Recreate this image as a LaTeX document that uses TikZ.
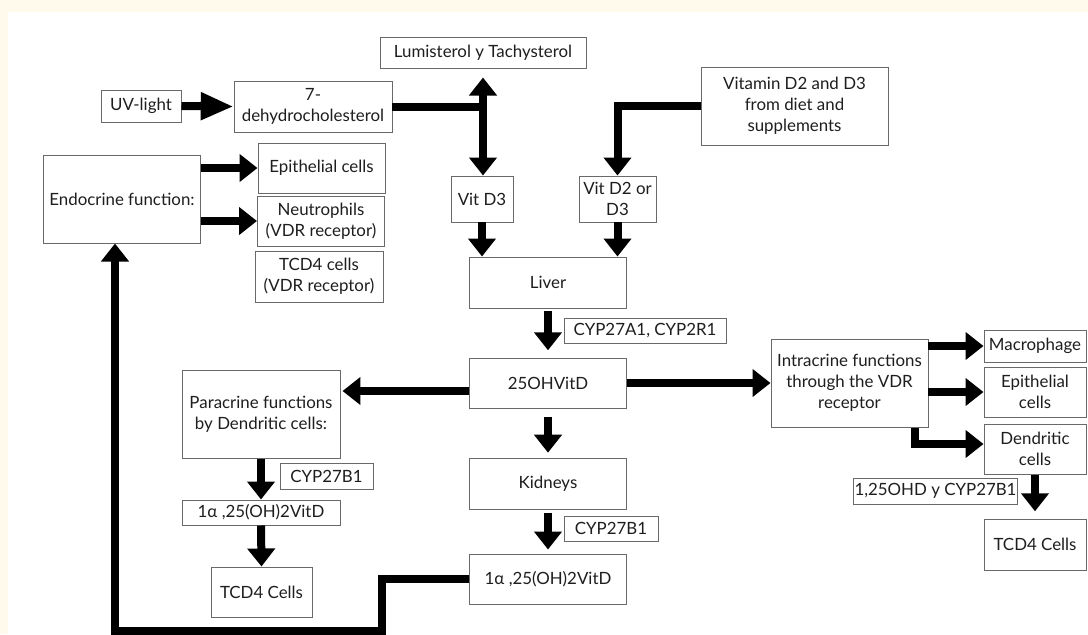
\documentclass[tikz,border=0pt]{standalone}
\usepackage{fontspec}
\setmainfont{Lato}
\usetikzlibrary{arrows.meta,calc}
\definecolor{cream}{RGB}{255,250,235}
\definecolor{boxline}{RGB}{105,105,105}
\definecolor{ink}{RGB}{30,30,30}

\begin{document}
\begin{tikzpicture}[x=0.025cm,y=-0.025cm,
  box/.style={draw=boxline, line width=0.7pt, fill=white, text=ink, align=center, inner sep=1pt, font=\fontsize{12}{15}\selectfont},
  wh/.style 2 args={minimum width=#1*0.025cm, minimum height=#2*0.025cm},
  fat/.style={line width=0.2cm, -{Triangle[width=0.675cm,length=0.45cm]}},
  fatline/.style={line width=0.2cm},
  dbl/.style={line width=0.2cm, {Triangle[width=0.675cm,length=0.45cm]}-{Triangle[width=0.675cm,length=0.45cm]}}]
\fill[cream] (0,0) rectangle (1088,634);
\fill[white] (8,12) rectangle (1088,634);
\useasboundingbox (0,0) rectangle (1088,634);

% top row
\node[box, wh={206}{31}] (lumi) at (483,52.5) {Lumisterol y Tachysterol};
\node[box, wh={80}{32}] (uv) at (141,106) {UV-light};
\node[box, wh={158}{51}] (dehydro) at (313,106.5) {7-\\dehydrocholesterol};
\node[box, wh={187}{78}] (diet) at (794.5,106) {Vitamin D2 and D3\\from diet and\\supplements};

% endocrine
\node[box, wh={157}{88}] (endo) at (122,199) {Endocrine function:};
\node[box, wh={127}{50}] (epi1) at (321.5,168) {Epithelial cells};
\node[box, wh={127}{50}] (neut) at (321,221) {Neutrophils\\(VDR receptor)};
\node[box, wh={128}{51}] (tcdv) at (319,276.5) {TCD4 cells\\(VDR receptor)};

% middle column
\node[box, wh={62}{46}] (vitd3) at (482,199) {Vit D3};
\node[box, wh={77}{46}] (vitd2) at (617.5,199) {Vit D2 or\\D3};
\node[box, wh={157.5}{51}] (liver) at (548,282.5) {Liver};
\node[box, wh={162}{25}] (cypa) at (645,330.5) {CYP27A1, CYP2R1};
\node[box, wh={157.5}{50}] (oh25) at (548,383) {25OHVitD};
\node[box, wh={157.5}{51}] (kid) at (548,483.5) {Kidneys};
\node[box, wh={94}{25}] (cypb2) at (611,528.5) {CYP27B1};
\node[box, wh={157.5}{50}] (alphaB) at (548,579) {1α ,25(OH)2VitD};

% paracrine
\node[box, wh={158}{88}] (para) at (261,414) {Paracrine functions\\by Dendritic cells:};
\node[box, wh={93}{26}] (cypb1) at (326.5,476) {CYP27B1};
\node[box, wh={158}{25}] (alphaL) at (261,512.5) {1α ,25(OH)2VitD};
\node[box, wh={101}{50}] (tcdL) at (261.5,592) {TCD4 Cells};

% intracrine
\node[box, wh={157}{88}] (intra) at (849.5,383) {Intracrine functions\\through the VDR\\receptor};
\node[box, wh={102}{32}] (macro) at (1035,346) {Macrophage};
\node[box, wh={102}{50}] (epi2) at (1035,392) {Epithelial\\cells};
\node[box, wh={102}{50}] (dend) at (1035,449) {Dendritic\\cells};
\node[box, wh={163}{26}] (cyp125) at (935.5,491) {1,25OHD y CYP27B1};
\node[box, wh={102}{51}] (tcdR) at (1035,544.5) {TCD4 Cells};

\coordinate (lumigap) at ($(lumi.south)+(0,9)$);
\coordinate (oh25w) at ($(oh25.west)+(0,8)$);
\coordinate (intrafoot) at ($(intra.south east)+(-13,0)$);
\coordinate (dendin) at ($(dend.west)+(0,-5)$);
\coordinate (loopturn) at (382,631);
\coordinate (endofoot) at ($(endo.south)+(-7,0)$);

\draw[fat, -{Triangle[width=0.65cm,length=0.82cm]}] (uv.east) -- (dehydro.west);
\draw[fatline] (dehydro.east) -- (dehydro.east -| lumigap);
\draw[dbl] (lumigap) -- (lumigap |- vitd3.north);
\draw[fat] (diet.west) -| (vitd2.north);
\draw[fat] (endo.east |- epi1.west) -- (epi1.west);
\draw[fat] (endo.east |- neut.west) -- (neut.west);
\draw[fat] (vitd3.south) -- (vitd3.south |- liver.north);
\draw[fat] (vitd2.south) -- (vitd2.south |- liver.north);
\draw[fat, shorten <=0.05cm, shorten >=0.18cm] (liver.south) -- (oh25.north);
\draw[fat, shorten <=0.2cm, shorten >=0.12cm] (oh25.south) -- (kid.north);
\draw[fat, shorten <=0.08cm, shorten >=0.1cm] (kid.south) -- (alphaB.north);
\draw[fat, shorten >=0.05cm] (oh25w) -- (oh25w -| para.east);
\draw[fat] (oh25.east) -- (intra.west);
\draw[fat] (macro.west -| intra.east) -- (macro.west);
\draw[fat] (epi2.west -| intra.east) -- (epi2.west);
\draw[fat] (intrafoot) |- (dendin);
\draw[fat, shorten >=0.18cm] (dend.south) -- (tcdR.north);
\draw[fat] (para.south) -- (alphaL.north);
\draw[fat] (alphaL.south) -- (tcdL.north);
\draw[fat] (alphaB.west) -| (loopturn) -| (endofoot);
\end{tikzpicture}
\end{document}
